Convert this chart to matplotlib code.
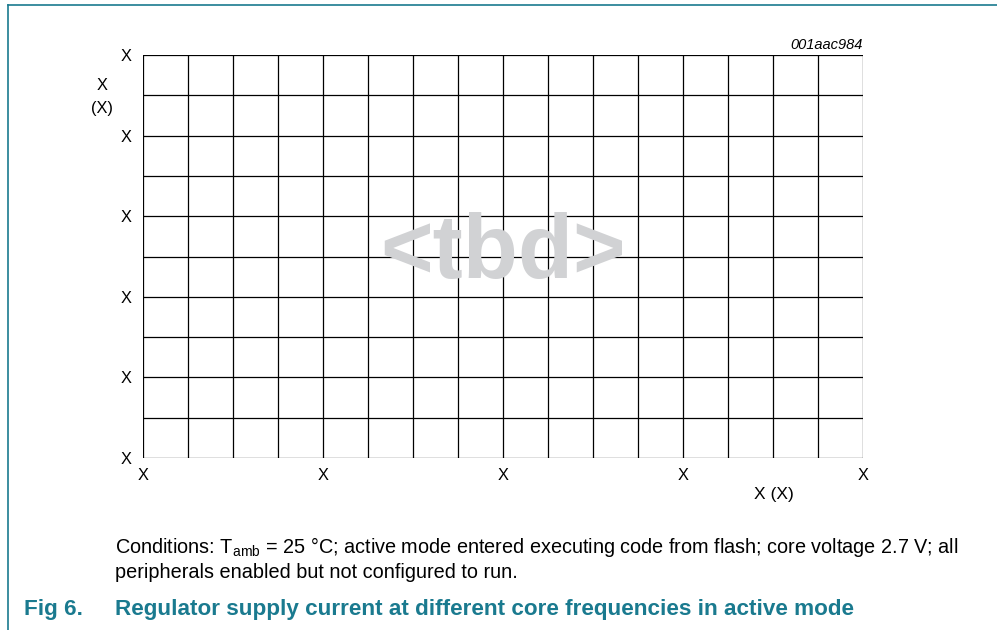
import matplotlib.pyplot as plt
from matplotlib.lines import Line2D

plt.rcParams['font.family'] = ['Liberation Sans', 'DejaVu Sans']

# placeholder grid: 16 columns x 10 rows
n_kolom = 16
n_baris = 10
x_tick_pos = [0, 4, 8, 12, 16]
x_tick_label = ['X', 'X', 'X', 'X', 'X']
y_tick_pos = [0, 2, 4, 6, 8, 10]
y_tick_label = ['X', 'X', 'X', 'X', 'X', 'X']

judul = 'Regulator supply current at different core frequencies in active mode'
kondisi_1 = ('Conditions: T$_{\\mathregular{amb}}$ = 25 \u00b0C; active mode entered executing code '
             'from flash; core voltage 2.7 V; all')
kondisi_2 = 'peripherals enabled but not configured to run.'
teal = '#1a7a8f'

fig = plt.figure(figsize=(9.97, 6.3), dpi=100)
W, H = 997, 630
ax = fig.add_axes([143 / W, 1 - 458 / H, 720 / W, 403 / H])
ax.set_xlim(0, n_kolom)
ax.set_ylim(0, n_baris)

for i in range(n_kolom + 1):
    ax.axvline(i, color='black', lw=0.9, zorder=1)
for j in range(n_baris + 1):
    ax.axhline(j, color='black', lw=0.9, zorder=1)
for s in ax.spines.values():
    s.set_visible(False)

ax.set_xticks(x_tick_pos)
ax.set_xticklabels(x_tick_label)
ax.set_yticks(y_tick_pos)
ax.set_yticklabels(y_tick_label)
ax.tick_params(length=0, labelsize=11.8, colors='black')
ax.tick_params(axis='x', pad=7)
ax.tick_params(axis='y', pad=8)

ax.text(0.5, 0.505, '<tbd>', transform=ax.transAxes, ha='center', va='center',
        fontsize=65, fontweight='bold', color='#d1d2d4', zorder=3)

fig.text(102 / W, 1 - 85 / H, 'X', ha='center', va='center', fontsize=11.8)
fig.text(102 / W, 1 - 108 / H, '(X)', ha='center', va='center', fontsize=11.8)
fig.text(774 / W, 1 - 495 / H, 'X (X)', ha='center', va='center', fontsize=12.5)
fig.text(863 / W, 1 - 45 / H, '001aac984', ha='right', va='center', fontsize=10.5, style='italic')

fig.text(115 / W, 1 - 547 / H, kondisi_1, ha='left', va='center', fontsize=14.35)
fig.text(115 / W, 1 - 572 / H, kondisi_2, ha='left', va='center', fontsize=14.35)
fig.text(24 / W, 1 - 610 / H, 'Fig 6.', ha='left', va='center', fontsize=16.2, fontweight='bold', color=teal)
fig.text(115 / W, 1 - 610 / H, judul, ha='left', va='center', fontsize=16.2, fontweight='bold', color=teal)

# bingkai kiri dan atas
fig.add_artist(Line2D([8 / W, 8 / W], [0, 1 - 5 / H], color=teal, lw=1.2))
fig.add_artist(Line2D([8 / W, 1], [1 - 5 / H, 1 - 5 / H], color=teal, lw=1.2))

fig.savefig('out.png', dpi=100)
